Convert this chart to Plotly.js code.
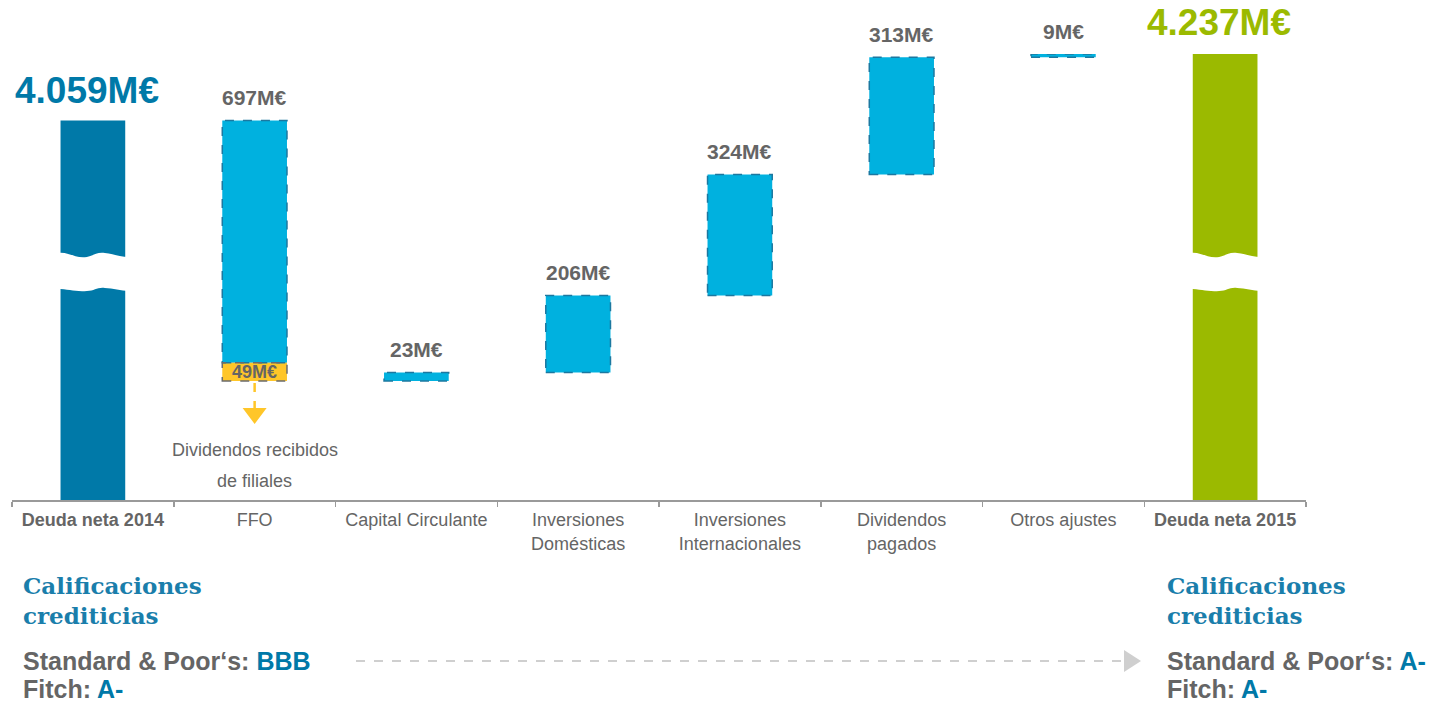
<!DOCTYPE html>
<html>
<head>
<meta charset="utf-8">
<script src="https://cdn.plot.ly/plotly-3.0.1.min.js"></script>
<style>html,body{margin:0;padding:0;background:#fff;}#chart{width:1448px;height:705px;}</style>
</head>
<body>
<div id="chart"></div>
<script>
// ---------- data ----------
const categories = ['Deuda neta 2014','FFO','Capital Circulante','Inversiones Domésticas','Inversiones Internacionales','Dividendos pagados','Otros ajustes','Deuda neta 2015'];
const tickLabels = ['<b>Deuda neta 2014</b>','FFO','Capital Circulante','Inversiones<br>Domésticas','Inversiones<br>Internacionales','Dividendos<br>pagados','Otros ajustes','<b>Deuda neta 2015</b>'];
const startDebt = 4059;            // M€
const endDebt = 4237;              // M€
const changes = [-697, 23, 206, 324, 313, 9];   // FFO .. Otros ajustes
const ffoDividends = 49;           // part of FFO: dividendos recibidos de filiales
const changeLabels = ['697M€','23M€','206M€','324M€','313M€','9M€'];
const totalLabels = ['4.059M€','4.237M€'];
const ratingAgencies = ['Standard & Poor‘s','Fitch'];
const ratings2014 = ['BBB','A-'];
const ratings2015 = ['A-','A-'];
const ratingsTitle = 'Calificaciones<br>crediticias';
const dividendNote = ['Dividendos recibidos','de filiales'];

// ---------- styling ----------
const C_DARK = '#0079A8', C_CYAN = '#00B1DF', C_GREEN = '#9BBA00', C_YEL = '#FFC629';
const C_EDGE = '#1C78A0', C_GRAY = '#656565';
const FONT = 'Liberation Sans, Arial, sans-serif';
const SERIF = 'DejaVu Serif, Liberation Serif, serif';

// plot geometry (pixels)
const L = 12, R = 142, T = 54, B = 205, W = 1448, H = 705;
const plotW = W - L - R, plotH = H - T - B;
const px = p => (p - L) / plotW;
const py = p => (H - B - p) / plotH;

// ---------- waterfall computation ----------
const bases = [], heights = [], tops = [];
let level = startDebt;
changes.forEach(c => {
  const b = c < 0 ? level + c : level;
  bases.push(b); heights.push(Math.abs(c)); tops.push(b + Math.abs(c));
  level += c;
});
const deltaCats = categories.slice(1, 7);

const cyanBase = bases.slice(), cyanHeight = heights.slice();
cyanBase[0] = bases[0] + ffoDividends;
cyanHeight[0] = heights[0] - ffoDividends;

const traces = [
  {type:'bar', x:[categories[0], categories[7]], y:[startDebt, endDebt], base:[0,0],
   width:0.4, marker:{color:[C_DARK, C_GREEN], line:{width:0}}, hoverinfo:'skip'},
  {type:'bar', x:deltaCats, y:cyanHeight, base:cyanBase,
   width:0.4, marker:{color:C_CYAN, line:{width:0}}, hoverinfo:'skip'},
  {type:'bar', x:[categories[1]], y:[ffoDividends], base:[bases[0]],
   width:0.4, marker:{color:C_YEL, line:{width:0}}, hoverinfo:'skip'}
];

// ---------- shapes ----------
const shapes = [];
deltaCats.forEach((c, k) => {
  const i = k + 1;
  shapes.push({type:'rect', xref:'x', yref:'y', x0:i-0.2, x1:i+0.2,
    y0: k === 0 ? cyanBase[0] : bases[k], y1: tops[k],
    line:{color:C_EDGE, width:1.5, dash:'dash'}, fillcolor:'rgba(0,0,0,0)', layer:'above'});
});
shapes.push({type:'rect', xref:'x', yref:'y', x0:0.8, x1:1.2, y0:bases[0], y1:bases[0]+ffoDividends,
  line:{color:'#6b6b6b', width:1.5, dash:'dash'}, fillcolor:'rgba(0,0,0,0)', layer:'above'});

// yellow arrow below FFO dividends
shapes.push({type:'line', xref:'x', yref:'y', ysizemode:'pixel', yanchor:bases[0],
  x0:1, x1:1, y0:-2, y1:-27, line:{color:C_YEL, width:2.5, dash:'dash'}});
shapes.push({type:'path', xref:'x', yref:'y', xsizemode:'pixel', ysizemode:'pixel', xanchor:1, yanchor:bases[0],
  path:'M -12 -27 L 12 -27 L 0 -43 Z', fillcolor:C_YEL, line:{width:0}});

// axis break on the total bars
[0, 7].forEach(i => {
  shapes.push({type:'path', xref:'x', yref:'paper', xsizemode:'pixel', ysizemode:'pixel', xanchor:i, yanchor:py(272),
    path:'M -36 19 C -24 21 -18 13 -6 15 C 2 17 4 20 12 19 C 20 18 28 15 36 15 L 36 -19 C 28 -19 20 -16 12 -16 C 4 -15 2 -19 -6 -19 C -18 -20 -24 -17 -36 -17 Z',
    fillcolor:'#ffffff', line:{width:0}, layer:'above'});
});

// dashed gray arrow between ratings
shapes.push({type:'line', xref:'paper', yref:'paper', x0:px(356), x1:px(1124), y0:py(661), y1:py(661),
  line:{color:'#cfcfcf', width:2, dash:'dash'}});
shapes.push({type:'path', xref:'paper', yref:'paper', xsizemode:'pixel', ysizemode:'pixel', xanchor:px(1124), yanchor:py(661),
  path:'M 0 11 L 17 0 L 0 -11 Z', fillcolor:'#cfcfcf', line:{width:0}});

// ---------- annotations ----------
const ann = [];
changeLabels.forEach((t, k) => {
  ann.push({x:k+1, y:tops[k], xref:'x', yref:'y', text:'<b>'+t+'</b>', showarrow:false,
    yanchor:'middle', yshift:23, font:{family:FONT, size:21, color:C_GRAY}});
});
ann.push({x:1, y:bases[0] + ffoDividends/2, xref:'x', yref:'y', text:'<b>'+ffoDividends+'M€</b>', showarrow:false,
  yanchor:'middle', font:{family:FONT, size:18, color:C_GRAY}});
dividendNote.forEach((t, j) => {
  ann.push({x:1, y:bases[0], xref:'x', yref:'y', text:t, showarrow:false, yanchor:'middle',
    yshift:-69 - 31*j, font:{family:FONT, size:18, color:C_GRAY}});
});
ann.push({x:0, y:startDebt, xref:'x', yref:'y', text:'<b>'+totalLabels[0]+'</b>', showarrow:false,
  yanchor:'middle', yshift:30, xshift:-6, font:{family:FONT, size:37, color:C_DARK}});
ann.push({x:7, y:endDebt, xref:'x', yref:'y', text:'<b>'+totalLabels[1]+'</b>', showarrow:false,
  yanchor:'middle', yshift:32, xshift:-6, font:{family:FONT, size:37, color:C_GREEN}});

function ratingBlock(xPix, ratings) {
  ann.push({x:px(xPix), y:py(570), xref:'paper', yref:'paper', xanchor:'left', yanchor:'top', align:'left',
    text:'<b>'+ratingsTitle+'</b>', showarrow:false, font:{family:SERIF, size:23, color:'#1A7EAB'}});
  ratingAgencies.forEach((a, j) => {
    ann.push({x:px(xPix), y:py(661 + 28*j), xref:'paper', yref:'paper', xanchor:'left', yanchor:'middle', align:'left',
      text:'<b>'+a+': <span style="color:'+C_DARK+'">'+ratings[j]+'</span></b>', showarrow:false,
      font:{family:FONT, size:25, color:C_GRAY}});
  });
}
ratingBlock(21, ratings2014);
ratingBlock(1165, ratings2015);

const layout = {
  width:W, height:H, margin:{l:L, r:R, t:T, b:B, pad:0},
  paper_bgcolor:'#ffffff', plot_bgcolor:'#ffffff', showlegend:false, barmode:'overlay',
  font:{family:FONT, color:C_GRAY},
  xaxis:{type:'category', categoryorder:'array', categoryarray:categories, tickvals:categories, ticktext:tickLabels,
    range:[-0.5, 7.5], showline:true, linecolor:'#9a9a9a', linewidth:1.5, ticks:'outside', tickson:'boundaries',
    ticklen:5, tickcolor:'#9a9a9a', tickwidth:1.5, showgrid:false, zeroline:false, ticklabelstandoff:3,
    tickfont:{family:FONT, size:18, color:C_GRAY}, fixedrange:true},
  yaxis:{range:[3044, endDebt], visible:false, showgrid:false, zeroline:false, fixedrange:true},
  shapes:shapes, annotations:ann
};

Plotly.newPlot('chart', traces, layout, {displayModeBar:false, staticPlot:true});
</script>
</body>
</html>
